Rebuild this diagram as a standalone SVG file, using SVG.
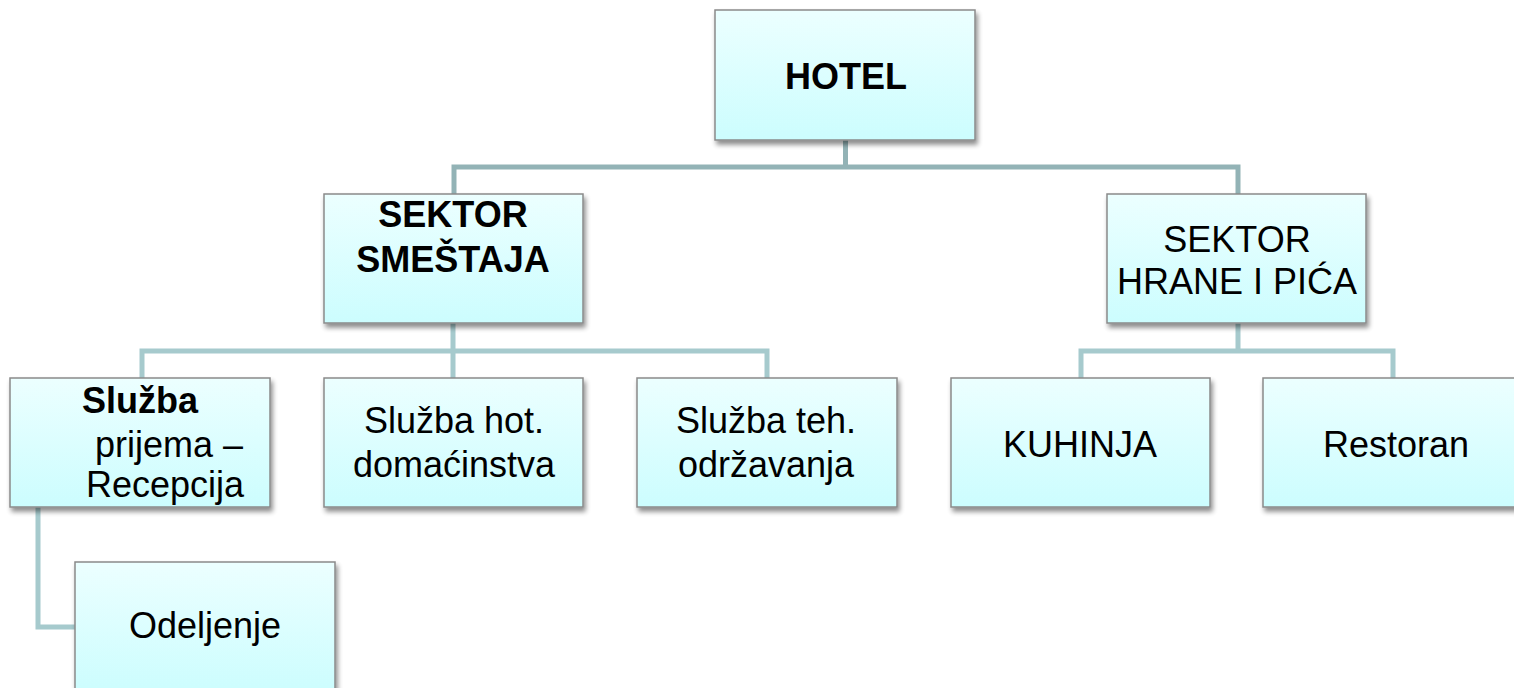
<svg xmlns="http://www.w3.org/2000/svg" width="1514" height="688" viewBox="0 0 1514 688">
  <defs>
    <linearGradient id="fill" x1="0" y1="0" x2="0" y2="1">
      <stop offset="0" stop-color="#ecffff"/>
      <stop offset="1" stop-color="#ccfdfe"/>
    </linearGradient>
    <filter id="shadow" x="-10%" y="-10%" width="125%" height="130%">
      <feGaussianBlur in="SourceAlpha" stdDeviation="2.5"/>
      <feOffset dx="2" dy="4" result="b"/>
      <feComponentTransfer><feFuncA type="linear" slope="0.45"/></feComponentTransfer>
      <feMerge><feMergeNode/><feMergeNode in="SourceGraphic"/></feMerge>
    </filter>
  </defs>
  <style>
    .box { fill: url(#fill); stroke: #8a8a8a; stroke-width: 1.5; filter: url(#shadow); }
    .t { font-family: "Liberation Sans", Arial, sans-serif; font-size: 36px; fill: #000; text-anchor: middle; }
    .b { font-weight: bold; }
    .c1 { fill: none; stroke: #93b3b6; stroke-width: 5; }
    .c2 { fill: none; stroke: #a6cacd; stroke-width: 5; }
  </style>
  <rect width="1514" height="688" fill="#ffffff"/>
  <g id="connectors">
    <path class="c1" d="M845.5 140 V167 M454 194 V167 H1238 V194"/>
    <path class="c2" d="M453 323 V378 M142 378 V351 H767 V378"/>
    <path class="c2" d="M1238 323 V351 M1081 378 V351 H1393 V378"/>
    <path class="c2" d="M38 507 V627 H75"/>
  </g>
  <g id="hotel">
    <rect class="box" x="715" y="10" width="260" height="130"/>
    <text class="t b" x="846" y="89">HOTEL</text>
  </g>
  <g id="sektor-smestaja">
    <rect class="box" x="324" y="194" width="259" height="129"/>
    <text class="t b" x="453" y="227">SEKTOR</text>
    <text class="t b" x="453" y="272">SMEŠTAJA</text>
  </g>
  <g id="sektor-hrane">
    <rect class="box" x="1107" y="194" width="259" height="129"/>
    <text class="t" x="1237" y="252">SEKTOR</text>
    <text class="t" x="1237" y="294">HRANE I PIĆA</text>
  </g>
  <g id="sluzba-prijema">
    <rect class="box" x="10" y="378" width="260" height="129"/>
    <text class="t b" x="82" y="413" style="text-anchor:start">Služba</text>
    <text class="t" x="95" y="457" style="text-anchor:start">prijema –</text>
    <text class="t" x="86" y="497" style="text-anchor:start">Recepcija</text>
  </g>
  <g id="sluzba-hot">
    <rect class="box" x="324" y="378" width="259" height="129"/>
    <text class="t" x="454" y="433">Služba hot.</text>
    <text class="t" x="454" y="477">domaćinstva</text>
  </g>
  <g id="sluzba-teh">
    <rect class="box" x="637" y="378" width="260" height="129"/>
    <text class="t" x="766" y="433">Služba teh.</text>
    <text class="t" x="766" y="477">održavanja</text>
  </g>
  <g id="kuhinja">
    <rect class="box" x="951" y="378" width="259" height="129"/>
    <text class="t" x="1080" y="457">KUHINJA</text>
  </g>
  <g id="restoran">
    <rect class="box" x="1263" y="378" width="260" height="129"/>
    <text class="t" x="1396" y="457">Restoran</text>
  </g>
  <g id="odeljenje">
    <rect class="box" x="75" y="562" width="260" height="130"/>
    <text class="t" x="205" y="638">Odeljenje</text>
  </g>
</svg>
